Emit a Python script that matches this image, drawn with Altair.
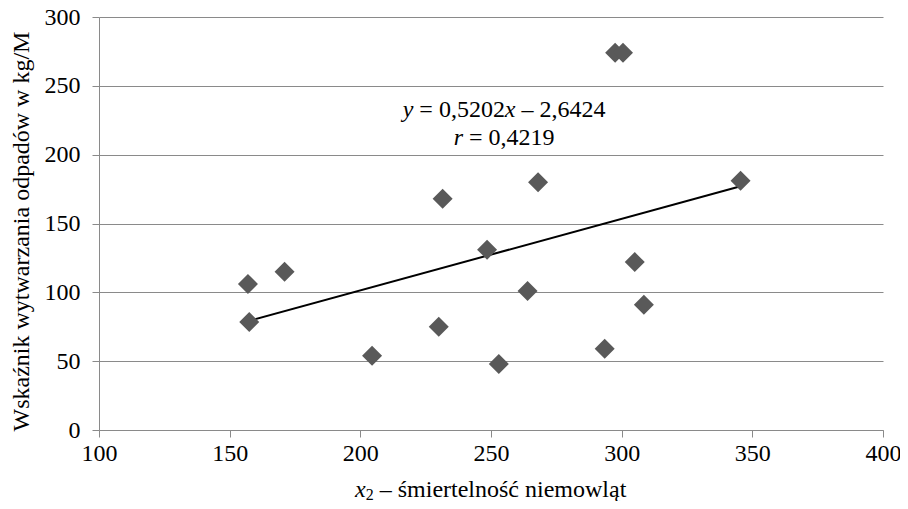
import altair as alt
import pandas as pd

# ---- data ----
x_vals = [157, 157.5, 171, 204.5, 230, 231.5, 248.5, 253, 264, 268,
          293.5, 297.5, 300.5, 305, 308.5, 345.5]
y_vals = [106, 78.5, 115, 54, 75, 168, 131, 48, 101, 180,
          59, 274, 274, 122, 91, 181]

slope = 0.5202
intercept = -2.6424

x_ticks = [100, 150, 200, 250, 300, 350, 400]
y_ticks = [0, 50, 100, 150, 200, 250, 300]

y_title = "Wskaźnik wytwarzania odpadów w kg/M"
x_title_var = "x"
x_title_sub = "2"
x_title_rest = "– śmiertelność niemowląt"

eq_parts = ["y", "= 0,5202", "x", "– 2,6424"]
r_parts = ["r", "= 0,4219"]

# ---- tables ----
pts = pd.DataFrame({"x": x_vals, "y": y_vals})
xmin, xmax = min(x_vals), max(x_vals)
trend = pd.DataFrame({"x": [xmin, xmax],
                      "y": [slope * xmin + intercept, slope * xmax + intercept]})

FONT = "Liberation Serif"
GRAY = "#8a8a8a"
FS = 24

xscale = alt.Scale(domain=[100, 400], nice=False, zero=False)
yscale = alt.Scale(domain=[0, 300], nice=False)

points = alt.Chart(pts).mark_point(
    shape="diamond", filled=True, size=400, color="#595959", opacity=1
).encode(
    x=alt.X("x:Q", scale=xscale,
            axis=alt.Axis(values=x_ticks, grid=False, tickSize=7, labelPadding=4,
                          title=None, labelFontSize=FS, labelFont=FONT,
                          labelColor="#000000", domainColor=GRAY, tickColor=GRAY,
                          labelFlush=False)),
    y=alt.Y("y:Q", scale=yscale,
            axis=alt.Axis(values=y_ticks, grid=True, gridColor=GRAY, tickSize=7,
                          labelPadding=12, labelFontSize=FS, labelFont=FONT,
                          labelColor="#000000", domainColor=GRAY, tickColor=GRAY,
                          title=y_title, titleFont=FONT, titleFontSize=FS,
                          titleFontWeight="normal", titleColor="#000000",
                          titleX=-78, titleY=214, titleAngle=270,
                          titleBaseline="middle", titleAlign="center",
                          labelFlush=False)),
)

line = alt.Chart(trend).mark_line(color="#000000", strokeWidth=2).encode(
    x=alt.X("x:Q", scale=xscale), y=alt.Y("y:Q", scale=yscale)
)


def piece(text, xd, yd, dx, italic=False, size=FS, dy=0, ypix=None):
    m = alt.Chart(pts).transform_filter("datum.x == %r" % x_vals[0]).mark_text(
        text=text, font=FONT, fontSize=size, align="left", baseline="alphabetic",
        fontStyle="italic" if italic else "normal", color="#000000", dx=dx, dy=dy
    )
    if ypix is None:
        return m.encode(x=alt.datum(xd, scale=xscale), y=alt.datum(yd, scale=yscale))
    return m.encode(x=alt.datum(xd, scale=xscale), y=alt.value(ypix))


ann_x = 255
eq_y = 227
r_y = 207
layers = [
    piece(eq_parts[0], ann_x, eq_y, -101.4, italic=True),
    piece(eq_parts[1], ann_x, eq_y, -84.7),
    piece(eq_parts[2], ann_x, eq_y, 0.8, italic=True),
    piece(eq_parts[3], ann_x, eq_y, 17.5),
    piece(r_parts[0], ann_x, r_y, -50.4, italic=True),
    piece(r_parts[1], ann_x, r_y, -35.1),
    piece(x_title_var, 250, None, -136, italic=True, ypix=480),
    piece(x_title_sub, 250, None, -125.3, size=16, ypix=483),
    piece(x_title_rest, 250, None, -111.3, ypix=480),
]

chart = alt.layer(line, points, *layers).properties(
    width=784, height=413,
    autosize=alt.AutoSizeParams(type="none"),
    padding={"left": 91, "top": 9, "right": 17, "bottom": 71},
    background="#ffffff",
).configure_view(stroke=None)

chart.save("out.html", embed_options={"renderer": "svg", "actions": False})
